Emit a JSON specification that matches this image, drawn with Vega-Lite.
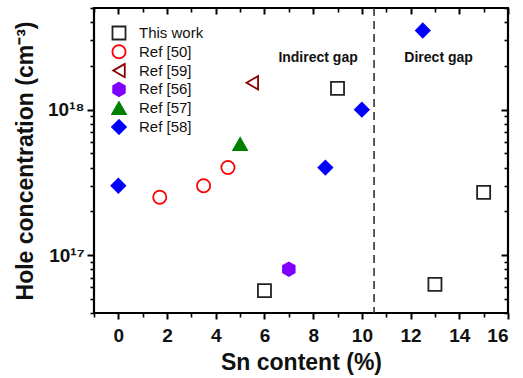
{
  "$schema": "https://vega.github.io/schema/vega-lite/v6.json",
  "width": 414,
  "height": 305,
  "autosize": "none",
  "padding": {"left": 94, "top": 8, "right": 15, "bottom": 65},
  "background": "white",
  "datasets": {
    "pts": [
      {"series": "This work", "sn": 6, "p": 5.7e16},
      {"series": "This work", "sn": 9, "p": 1.4e18},
      {"series": "This work", "sn": 13, "p": 6.3e16},
      {"series": "This work", "sn": 15, "p": 2.7e17},
      {"series": "Ref [50]", "sn": 1.7, "p": 2.5e17},
      {"series": "Ref [50]", "sn": 3.5, "p": 3.0e17},
      {"series": "Ref [50]", "sn": 4.5, "p": 4.0e17},
      {"series": "Ref [59]", "sn": 5.5, "p": 1.53e18},
      {"series": "Ref [56]", "sn": 7, "p": 8.0e16},
      {"series": "Ref [57]", "sn": 5, "p": 5.8e17},
      {"series": "Ref [58]", "sn": 0, "p": 3.0e17},
      {"series": "Ref [58]", "sn": 8.5, "p": 4.0e17},
      {"series": "Ref [58]", "sn": 10, "p": 1.0e18},
      {"series": "Ref [58]", "sn": 12.5, "p": 3.5e18}
    ],
    "gap": [{"sn": 10.5}],
    "notes": [
      {"label": "Indirect gap", "sn": 8.2, "p": 2.25e18},
      {"label": "Direct gap", "sn": 13.15, "p": 2.25e18}
    ]
  },
  "resolve": {"axis": {"x": "independent", "y": "independent"}},
  "layer": [
    {
      "data": {"name": "gap"},
      "mark": {"type": "rule", "strokeDash": [8, 5], "strokeWidth": 1.6, "color": "#333333"},
      "encoding": {
        "x": {"field": "sn", "type": "quantitative", "scale": {"domain": [-1, 16], "nice": false, "zero": false}, "axis": null}
      }
    },
    {
      "data": {"name": "pts"},
      "mark": {"type": "point", "filled": true, "strokeWidth": 1.8, "opacity": 1},
      "encoding": {
        "x": {"field": "sn", "type": "quantitative", "scale": {"domain": [-1, 16], "nice": false, "zero": false},
          "axis": {"orient": "bottom", "values": [0, 2, 4, 6, 8, 10, 12, 14, 16], "title": "Sn content (%)", "tickSize": 6, "tickWidth": 2, "labelFontSize": 19, "labelPadding": 7, "titleFontSize": 23, "titlePadding": 6}},
        "y": {"field": "p", "type": "quantitative", "scale": {"type": "log", "domain": [4e16, 5e18], "nice": false},
          "axis": {"orient": "left", "values": [1e17, 1e18], "labelExpr": "datum.value >= 1e18 ? '10¹⁸' : '10¹⁷'", "title": "Hole concentration (cm⁻³)", "tickSize": 7, "tickWidth": 2, "labelFontSize": 19, "labelPadding": 3, "titleFontSize": 23, "titlePadding": 10}},
        "shape": {"field": "series", "type": "nominal", "title": "Series", "scale": {"domain": ["This work", "Ref [50]", "Ref [59]", "Ref [56]", "Ref [57]", "Ref [58]"], "range": ["square", "circle", "triangle-left", "M0,-1L0.866,-0.5L0.866,0.5L0,1L-0.866,0.5L-0.866,-0.5Z", "triangle-up", "diamond"]},
          "legend": {"title": null, "orient": "none", "legendX": 17, "legendY": 17, "padding": 0, "symbolStrokeWidth": 1.8, "labelFontSize": 15, "labelFont": "Liberation Sans", "labelColor": "#111111", "rowPadding": 2.8, "clipHeight": 16, "labelOffset": 12}},
        "fill": {"field": "series", "type": "nominal", "title": "Series", "scale": {"domain": ["This work", "Ref [50]", "Ref [59]", "Ref [56]", "Ref [57]", "Ref [58]"], "range": ["transparent", "transparent", "transparent", "#8000ff", "#008000", "#0000ff"]}},
        "stroke": {"field": "series", "type": "nominal", "title": "Series", "scale": {"domain": ["This work", "Ref [50]", "Ref [59]", "Ref [56]", "Ref [57]", "Ref [58]"], "range": ["#222222", "#ff0000", "#8b0000", "#8000ff", "#008000", "#0000ff"]}},
        "size": {"field": "series", "type": "nominal", "title": "Series", "scale": {"domain": ["This work", "Ref [50]", "Ref [59]", "Ref [56]", "Ref [57]", "Ref [58]"], "range": [170, 190, 200, 240, 190, 260]}}
      }
    },
    {
      "data": {"name": "notes"},
      "transform": [{"filter": "datum.label == 'Indirect gap'"}],
      "mark": {"type": "text", "fontWeight": "bold", "fontSize": 14, "font": "Liberation Sans", "align": "center", "baseline": "middle", "color": "#111111"},
      "encoding": {
        "text": {"field": "label"},
        "x": {"field": "sn", "type": "quantitative", "scale": {"domain": [-1, 16], "nice": false, "zero": false},
          "axis": {"orient": "bottom", "values": [-1, 1, 3, 5, 7, 9, 11, 13, 15], "labels": false, "title": null, "tickSize": 4, "tickWidth": 1.6}},
        "y": {"field": "p", "type": "quantitative", "scale": {"type": "log", "domain": [4e16, 5e18], "nice": false},
          "axis": {"orient": "left", "values": [4e16, 5e16, 6e16, 7e16, 8e16, 9e16, 2e17, 3e17, 4e17, 5e17, 6e17, 7e17, 8e17, 9e17, 2e18, 3e18, 4e18, 5e18], "labels": false, "title": null, "tickSize": 4, "tickWidth": 1.6}}
      }
    },
    {
      "data": {"name": "notes"},
      "transform": [{"filter": "datum.label == 'Direct gap'"}],
      "mark": {"type": "text", "fontWeight": "bold", "fontSize": 14, "font": "Liberation Sans", "align": "center", "baseline": "middle", "color": "#111111"},
      "encoding": {
        "text": {"field": "label"},
        "x": {"field": "sn", "type": "quantitative", "scale": {"domain": [-1, 16], "nice": false, "zero": false},
          "axis": {"orient": "top", "values": [0, 2, 4, 6, 8, 10, 12, 14, 16], "labels": false, "title": null, "tickSize": -6, "tickWidth": 2}},
        "y": {"field": "p", "type": "quantitative", "scale": {"type": "log", "domain": [4e16, 5e18], "nice": false},
          "axis": {"orient": "right", "values": [1e17, 1e18], "labels": false, "title": null, "tickSize": -7, "tickWidth": 2}}
      }
    },
    {
      "data": {"name": "pts"},
      "mark": {"type": "point", "opacity": 0},
      "encoding": {
        "x": {"field": "sn", "type": "quantitative", "scale": {"domain": [-1, 16], "nice": false, "zero": false},
          "axis": {"orient": "top", "values": [-1, 1, 3, 5, 7, 9, 11, 13, 15], "labels": false, "title": null, "tickSize": -4, "tickWidth": 1.6}},
        "y": {"field": "p", "type": "quantitative", "scale": {"type": "log", "domain": [4e16, 5e18], "nice": false},
          "axis": {"orient": "right", "values": [4e16, 5e16, 6e16, 7e16, 8e16, 9e16, 2e17, 3e17, 4e17, 5e17, 6e17, 7e17, 8e17, 9e17, 2e18, 3e18, 4e18, 5e18], "labels": false, "title": null, "tickSize": -4, "tickWidth": 1.6}}
      }
    }
  ],
  "config": {
    "font": "Liberation Sans",
    "view": {"stroke": "#000000", "strokeWidth": 2.2},
    "axis": {
      "grid": false,
      "domain": false,
      "tickColor": "#000000",
      "labelColor": "#111111",
      "titleColor": "#111111",
      "labelFont": "Liberation Sans",
      "titleFont": "Liberation Sans",
      "labelFontWeight": "bold",
      "titleFontWeight": "bold"
    }
  }
}
